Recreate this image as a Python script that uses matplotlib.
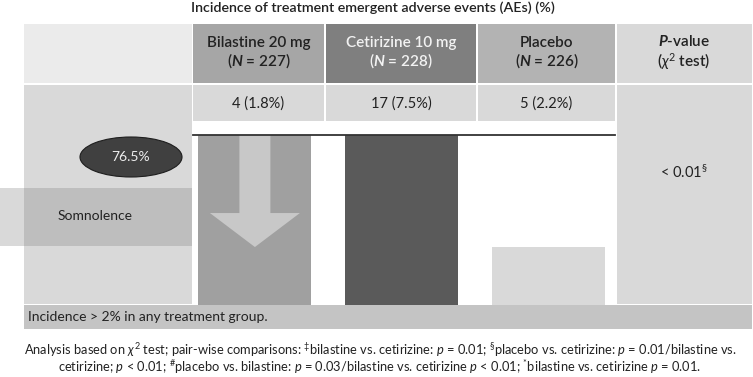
import matplotlib

matplotlib.use("Agg")
import matplotlib.pyplot as plt
from matplotlib.patches import Ellipse, Rectangle

plt.rcParams["font.family"] = ["Lato", "DejaVu Sans"]
plt.rcParams["mathtext.fontset"] = "custom"
plt.rcParams["mathtext.rm"] = "Lato"
plt.rcParams["mathtext.it"] = "Lato:italic"
plt.rcParams["mathtext.bf"] = "Lato:bold"
plt.rcParams["mathtext.bfit"] = "Lato:italic:bold"
plt.rcParams["mathtext.fallback"] = "stixsans"

# data
TITLE = "Incidence of treatment emergent adverse events (AEs) (%)"
groups = ["Bilastine 20 mg", "Cetirizine 10 mg", "Placebo"]
group_n = [227, 228, 226]
ae_counts = ["4 (1.8%)", "17 (7.5%)", "5 (2.2%)"]
bar_heights = [100, 100, 34]
pvalue = "< $0.01^{§}$"
ae_name = "Somnolence"
ae_badge = "76.5%"
row_note = "Incidence > 2% in any treatment group."
footnote_lines = [
    "Analysis based on $\\chi^2$ test; pair-wise comparisons: $^{‡}$bilastine vs. cetirizine: "
    "$p$ = 0.01; $^{§}$placebo vs. cetirizine: $p$ = 0.01/bilastine vs.",
    "cetirizine; $p$ < 0.01; $^{\\#}$placebo vs. bilastine: $p$ = 0.03/bilastine vs. "
    "cetirizine $p$ < 0.01; $^{*}$bilastine vs. cetirizine $p$ = 0.01.",
]

W, H = 753, 377
fig = plt.figure(figsize=(W / 100, H / 100), dpi=100)
ax = fig.add_axes([0, 0, 1, 1])
ax.set_xlim(0, W)
ax.set_ylim(H, 0)
ax.axis("off")


def cell(x0, y0, x1, y1, color, **kw):
    ax.add_patch(Rectangle((x0, y0), x1 - x0, y1 - y0, facecolor=color,
                           edgecolor="none", **kw))


# column edges (pixels)
cols = [(193, 324), (326, 476), (478, 615)]
head_colors = ["#a6a6a6", "#7f7f7f", "#b3b3b3"]
head_text = ["#222222", "#f2f2f2", "#222222"]

ax.text(373, 8, TITLE, ha="center", va="center", fontsize=10.3,
        fontweight="semibold", color="#222222")

# header row
cell(24, 24, 192, 83, "#ebebeb")
for (x0, x1), c, tc, g, n in zip(cols, head_colors, head_text, groups, group_n):
    cell(x0, 24, x1, 83, c)
    ax.text((x0 + x1) / 2, 53, f"{g}\n($\\mathbfit{{N}}$ = {n})", ha="center",
            va="center", fontsize=11, fontweight="semibold", color=tc,
            linespacing=1.1)
cell(617, 24, 752, 83, "#d9d9d9")
ax.text(684, 53, "$\\mathbfit{P}$-value\n($\\chi^2$ test)", ha="center",
        va="center", fontsize=11, fontweight="semibold", color="#222222",
        linespacing=1.1)

# counts row
cell(24, 85, 192, 304, "#d9d9d9")
for (x0, x1), txt in zip(cols, ae_counts):
    cell(x0, 85, x1, 121, "#d9d9d9")
    ax.text((x0 + x1) / 2, 104, txt, ha="center", va="center", fontsize=10.5,
            color="#222222")
cell(617, 85, 752, 304, "#d9d9d9")
ax.text(684, 172, pvalue, ha="center", va="center", fontsize=10.5,
        color="#222222")

# somnolence band + badge
cell(0, 188, 192, 246, "#7f7f7f", alpha=0.29)
ax.text(95, 216, ae_name, ha="center", va="center", fontsize=10,
        color="#222222")
ax.add_patch(Ellipse((131, 157), 102, 40, facecolor="#404040",
                     edgecolor="#1e1e1e", lw=0.8))
ax.text(131, 157, ae_badge, ha="center", va="center", fontsize=10,
        color="#eeeeee")

# bottom note
cell(24, 305, 752, 329, "#c4c4c4")
ax.text(28, 317, row_note, ha="left", va="center", fontsize=10,
        color="#222222")

for y, line in zip([350, 367], footnote_lines):
    ax.text(380, y, line, ha="center", va="center", fontsize=9.3,
            color="#222222")

# bars
bx = fig.add_axes([193 / W, (H - 305) / H, (615 - 193) / W, (305 - 135) / H])
bx.set_xlim(-0.4218, 2.4538)
bx.set_ylim(0, 100)
bx.axis("off")
bar_colors = ["#a0a0a0", "#5a5a5a", "#d9d9d9"]
bx.bar(range(len(groups)), bar_heights, width=0.77, color=bar_colors)
bx.arrow(0, 100, 0, -65.9, width=0.211, head_width=0.613, head_length=20,
         length_includes_head=True, color="#c8c8c8", lw=0)
bx.axhline(100, color="#333333", lw=1.3, clip_on=False)

fig.savefig("out.png", dpi=100)
